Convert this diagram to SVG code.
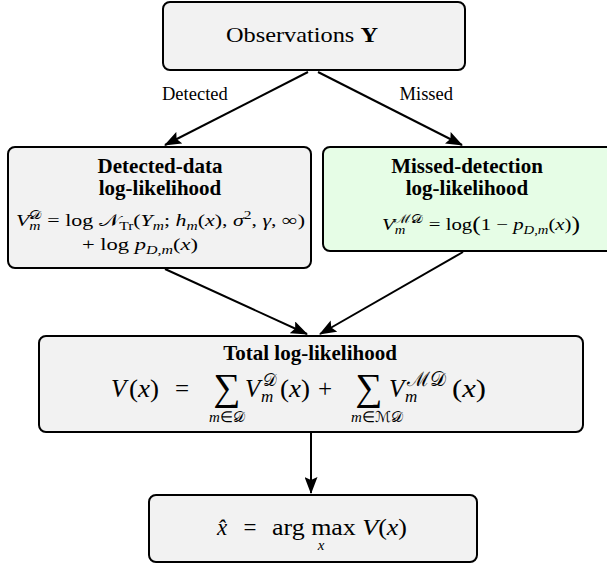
<svg xmlns="http://www.w3.org/2000/svg" width="607" height="564" viewBox="0 0 607 564">
<style>
.box{fill:#f2f2f2;stroke:#000;stroke-width:2}
.green{fill:#e6fde6}
.t{font-family:"Liberation Serif","Times New Roman",serif;fill:#000}
.hd{font-weight:bold;font-size:21px;text-anchor:middle}
.i{font-style:italic}
.big{font-size:25px}
.sm{font-size:17px}
.edge{stroke:#000;stroke-width:2;fill:none;marker-end:url(#ah)}
</style>
<defs>
<marker id="ah" markerWidth="17" markerHeight="13" refX="16" refY="6.5" orient="auto" markerUnits="userSpaceOnUse">
<path d="M0,0 L17,6.5 L0,13 L3,6.5 z" fill="#000"/>
</marker>
</defs>

<g id="edges">
<line class="edge" x1="308" y1="72" x2="165" y2="145"/>
<line class="edge" x1="318" y1="72" x2="462" y2="145"/>
<line class="edge" x1="165" y1="269" x2="307" y2="334"/>
<line class="edge" x1="463" y1="252" x2="320" y2="334"/>
<line class="edge" x1="311" y1="432" x2="311" y2="493"/>
<text class="t" x="162" y="100" font-size="18.5">Detected</text>
<text class="t" x="453" y="100" font-size="18.5" text-anchor="end">Missed</text>
</g>

<g id="observations">
<rect class="box" x="163" y="2" width="302" height="68" rx="7"/>
<text class="t" x="226" y="42" font-size="21" textLength="152" lengthAdjust="spacingAndGlyphs">Observations <tspan font-weight="bold">Y</tspan></text>
</g>

<g id="detected">
<rect class="box" x="8" y="147" width="303" height="121" rx="7"/>
<text class="t hd" x="160" y="173">Detected-data</text>
<text class="t hd" x="160" y="195">log-likelihood</text>
<text class="t" x="16" y="226" font-size="17" textLength="289" lengthAdjust="spacingAndGlyphs"><tspan class="i">V</tspan><tspan class="i" font-size="12" dy="4">m</tspan><tspan font-size="12" dx="-9" dy="-11">𝒟</tspan><tspan dy="7"> = log 𝒩</tspan><tspan font-size="12" dy="4">Tr</tspan><tspan dy="-4">(</tspan><tspan class="i">Y</tspan><tspan class="i" font-size="12" dy="4">m</tspan><tspan dy="-4">; </tspan><tspan class="i">h</tspan><tspan class="i" font-size="12" dy="4">m</tspan><tspan dy="-4">(</tspan><tspan class="i">x</tspan><tspan>), </tspan><tspan class="i">σ</tspan><tspan font-size="12" dy="-7">2</tspan><tspan dy="7">, </tspan><tspan class="i">γ</tspan><tspan>, ∞)</tspan></text>
<text class="t" x="82" y="250" font-size="17" textLength="116" lengthAdjust="spacingAndGlyphs">+ log <tspan class="i">p</tspan><tspan class="i" font-size="12" dy="4">D</tspan><tspan font-size="12">,</tspan><tspan class="i" font-size="12">m</tspan><tspan dy="-4">(</tspan><tspan class="i">x</tspan><tspan>)</tspan></text>
</g>

<g id="missed">
<rect class="box green" x="323" y="147" width="290" height="104" rx="7"/>
<text class="t hd" x="467" y="173">Missed-detection</text>
<text class="t hd" x="467" y="195">log-likelihood</text>
<text class="t" x="382" y="230" font-size="17" textLength="198" lengthAdjust="spacingAndGlyphs"><tspan class="i">V</tspan><tspan class="i" font-size="12" dy="4">m</tspan><tspan font-size="12" dx="-9" dy="-11">ℳ𝒟</tspan><tspan dy="7">  =  log</tspan><tspan font-size="21" dy="1">(</tspan><tspan dy="-1">1 − </tspan><tspan class="i">p</tspan><tspan class="i" font-size="12" dy="4">D</tspan><tspan font-size="12">,</tspan><tspan class="i" font-size="12">m</tspan><tspan dy="-4">(</tspan><tspan class="i">x</tspan><tspan>)</tspan><tspan font-size="21" dy="1">)</tspan></text>
</g>

<g id="total">
<rect class="box" x="39" y="336" width="544" height="96" rx="7"/>
<text class="t hd" x="310" y="360">Total log-likelihood</text>
<text class="t big i" x="111" y="397">V</text>
<text class="t big" x="129" y="397" textLength="30" lengthAdjust="spacingAndGlyphs">(<tspan class="i">x</tspan>)</text>
<text class="t big" x="182" y="397" text-anchor="middle">=</text>
<text class="t" x="227" y="400" font-size="38" text-anchor="middle">∑</text>
<text class="t big i" x="245" y="397">V</text>
<text class="t sm i" x="261" y="402">m</text>
<text class="t sm" x="263" y="386">𝒟</text>
<text class="t big" x="280" y="397" textLength="30" lengthAdjust="spacingAndGlyphs">(<tspan class="i">x</tspan>)</text>
<text class="t big" x="325" y="397" text-anchor="middle">+</text>
<text class="t" x="369" y="400" font-size="38" text-anchor="middle">∑</text>
<text class="t big i" x="389" y="397">V</text>
<text class="t sm i" x="405" y="402">m</text>
<text class="t" x="407" y="386" font-size="20">ℳ𝒟</text>
<text class="t big" x="452" y="397" textLength="34" lengthAdjust="spacingAndGlyphs">(<tspan class="i">x</tspan>)</text>
<text class="t" x="227" y="422" font-size="15" text-anchor="middle"><tspan class="i">m</tspan>∈𝒟</text>
<text class="t" x="377" y="422" font-size="15" text-anchor="middle"><tspan class="i">m</tspan>∈ℳ𝒟</text>
</g>

<g id="estimate">
<rect class="box" x="149" y="495" width="328" height="67" rx="7"/>
<text class="t" x="217" y="535" font-size="23"><tspan class="i">x̂</tspan></text>
<text class="t" x="250" y="535" font-size="23" text-anchor="middle">=</text>
<text class="t" x="272" y="535" font-size="23" textLength="135" lengthAdjust="spacingAndGlyphs">arg max <tspan class="i">V</tspan>(<tspan class="i">x</tspan>)</text>
<text class="t i" x="321" y="550" font-size="15" text-anchor="middle">x</text>
</g>
</svg>
